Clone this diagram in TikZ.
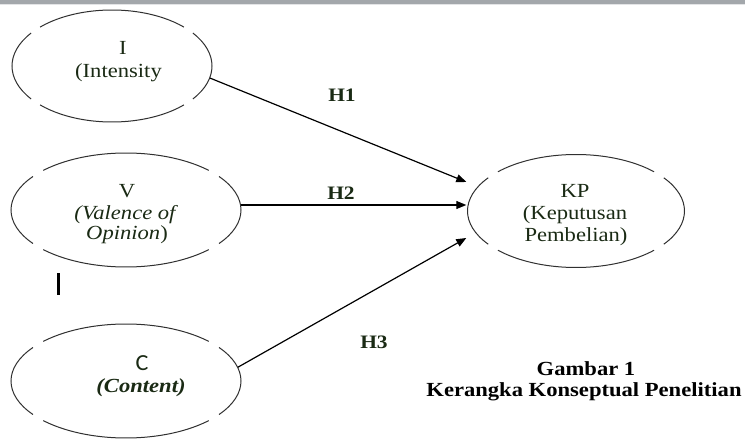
\documentclass[tikz,border=0pt]{standalone}
\usepackage{fontspec}
\setmainfont{Liberation Serif}[FakeStretch=1.13]
\newfontfamily\cfont{Carlito}[FakeStretch=1.05]
\usetikzlibrary{arrows.meta,shapes.geometric}
\definecolor{txt}{HTML}{1A2A14}
\definecolor{ringc}{HTML}{303030}
\definecolor{topbar}{HTML}{A3A7AB}
\tikzset{
  ring/.style={ellipse, draw=none, inner sep=0pt},
  ringline/.style={draw=ringc, line width=1pt},
  lbl/.style={anchor=base, inner sep=0pt, text=txt, font=\fontsize{20}{23}\selectfont},
  hyp/.style={anchor=base, inner sep=0pt, text=txt, font=\fontsize{19}{22}\selectfont\bfseries},
  captext/.style={anchor=base, inner sep=0pt, text=black, font=\fontsize{20}{23}\selectfont\bfseries},
  conn/.style={-{Triangle[length=10pt,width=8pt]}, line width=1.2pt, draw=black},
}
\newcommand\gapring[3]{%
  \foreach \a/\b in {44/136,144/216,224/316,324/396}{
    \draw[ringline] ([shift={(\a:#2pt and #3pt)}]#1.center) arc[start angle=\a, end angle=\b, x radius=#2pt, y radius=#3pt];
  }}
\begin{document}
\begin{tikzpicture}[x=1pt,y=-1pt]
\useasboundingbox (0,0) rectangle (745,441);
\fill[topbar] (0,0.5) rectangle (745,5);
\fill[white!70!topbar] (0,4.2) rectangle (745,5.5);

% ellipses
\node[ring, minimum width=200pt, minimum height=112pt] (I) at (112,66) {};
\node[ring, minimum width=230pt, minimum height=114pt] (V) at (126,210) {};
\node[ring, minimum width=230pt, minimum height=114pt] (C) at (126,381) {};
\node[ring, minimum width=217pt, minimum height=113pt] (KP) at (576,211) {};
\gapring{I}{100}{56}
\gapring{V}{115}{57}
\gapring{C}{115}{57}
\gapring{KP}{108.5}{56.5}

% texts
\node[lbl] (It1) at (123,55) {I};
\node[lbl] (It2) at (118.5,78) {(Intensity};
\node[lbl] (Vt1) at (127,198) {V};
\node[lbl] (Vt2) at (125,219) {\itshape (Valence of};
\node[lbl] (Vt3) at (127,240) {\itshape Opinion\upshape)};
\node[lbl] (Ct1) at (142,370) {\cfont\fontsize{23}{26}\selectfont C};
\node[lbl] (Ct2) at (141,392) {\bfseries\itshape (Content)};
\node[lbl] (Kt1) at (575,198) {KP};
\node[lbl] (Kt2) at (575,220) {(Keputusan};
\node[lbl] (Kt3) at (576,241) {Pembelian)};

% connectors
\draw[conn] (I.-7) -- ([xshift=-1pt,yshift=29pt]KP.west);
\draw[conn] ([yshift=5pt]V.east) -- ([xshift=-1pt,yshift=6pt]KP.west);
\draw[conn] (C.7) -- ([xshift=-1pt,yshift=-27pt]KP.west);

% hypothesis labels
\node[hyp] (H1) at (342,102) {H1};
\node[hyp] (H2) at (341,200) {H2};
\node[hyp] (H3) at (374,348) {H3};

% stray mark
\draw[line width=3pt] (58,273) -- (58,295);

% caption
\node[captext] (cap1) at (586,375) {Gambar 1};
\node[captext] (cap2) at (584,396) {Kerangka Konseptual Penelitian};
\end{tikzpicture}
\end{document}
